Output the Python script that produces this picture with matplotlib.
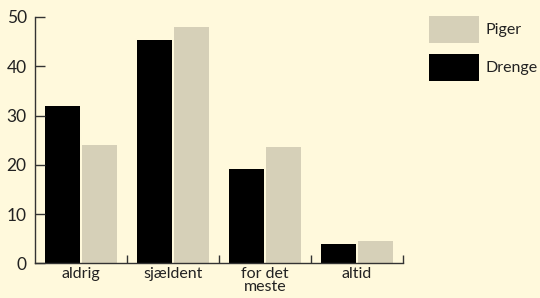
import matplotlib
matplotlib.use("Agg")
import matplotlib.pyplot as plt
import numpy as np

# Data
categories = ["aldrig", "sjældent", "for det\nmeste", "altid"]
drenge = [32.0, 45.3, 19.1, 3.9]
piger = [24.0, 47.9, 23.6, 4.5]
yticks = [0, 10, 20, 30, 40, 50]

bg = "#fff9dc"
piger_color = "#d6d0b8"
drenge_color = "#000000"
text_color = "#222222"

plt.rcParams["font.family"] = ["Lato", "DejaVu Sans"]

fig = plt.figure(figsize=(5.4, 2.98), dpi=100, facecolor=bg)
ax = fig.add_axes([0.0648, 0.1164, 0.6815, 0.8266], facecolor=bg)

x = np.arange(len(categories))
width = 0.37
ax.bar(x - width / 2 - 0.016, drenge, width, color=drenge_color, label="Drenge")
ax.bar(x + width / 2 + 0.016, piger, width, color=piger_color, label="Piger")

ax.set_xlim(-0.5, len(categories) - 0.5)
ax.set_ylim(0, 50)

# Axes styling
for side in ["top", "right"]:
    ax.spines[side].set_visible(False)
for side in ["left", "bottom"]:
    ax.spines[side].set_color("#333333")
    ax.spines[side].set_linewidth(1.0)

ax.set_yticks(yticks)
ax.tick_params(axis="y", direction="in", length=7, width=1, color="#333333",
               labelsize=12.5, labelcolor=text_color, pad=6)

# Ticks at group boundaries, labels at group centres
ax.set_xticks(x + 0.5)
ax.set_xticklabels([])
ax.tick_params(axis="x", which="major", direction="in", length=6, width=1,
               color="#333333")
ax.set_xticks(x, minor=True)
ax.set_xticklabels(categories, minor=True, fontsize=11.5, color=text_color,
                   linespacing=0.85)
ax.tick_params(axis="x", which="minor", length=0, pad=3)

# Legend
handles, labels = ax.get_legend_handles_labels()
leg = fig.legend(handles[::-1], labels[::-1], loc="upper left",
                 bbox_to_anchor=(0.780, 0.973), frameon=False, borderpad=0,
                 handlelength=3.1, handleheight=2.2, handletextpad=0.4,
                 labelspacing=0.7, fontsize=11.5)
for t in leg.get_texts():
    t.set_color(text_color)

fig.savefig("out.png", dpi=100, facecolor=bg)
